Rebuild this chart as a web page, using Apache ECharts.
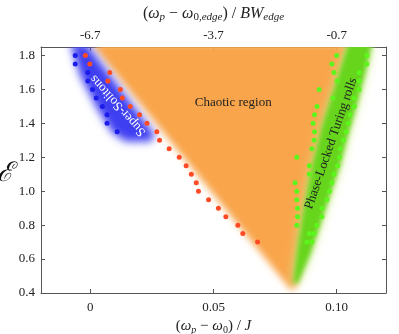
<!DOCTYPE html>
<html>
<head>
<meta charset="utf-8">
<script src="https://cdn.jsdelivr.net/npm/echarts@6/dist/echarts.min.js"></script>
<style>
html, body { margin: 0; padding: 0; background: #fff; }
#main { width: 399px; height: 334px; }
</style>
</head>
<body>
<div id="main"></div>
<script>
// axis ticks
var xTicks = [0, 0.05, 0.10];
var xTickLabels = ['0', '0.05', '0.10'];
var topTickLabels = ['-6.7', '-3.7', '-0.7'];
var yTicks = [0.4, 0.6, 0.8, 1.0, 1.2, 1.4, 1.6, 1.8];

// region outlines, [x, y]
var chaoticRegion = [[0.0004, 1.87], [0.1060, 1.87], [0.0900, 1.0], [0.0835, 0.434], [0.0819, 0.418], [0.0805, 0.434]];
var solitonRegion = [[-0.0081, 1.87], [-0.0016, 1.87], [0.0264, 1.329], [0.0243, 1.293], [0.0142, 1.293],
  [0.0089, 1.346], [0.0028, 1.488], [-0.0041, 1.682]];
var turingRegion = [[0.1046, 1.87], [0.0993, 1.623], [0.0941, 1.388], [0.0900, 1.152], [0.0864, 0.887],
  [0.0839, 0.651], [0.0823, 0.457], [0.0843, 0.457], [0.0892, 0.622], [0.0933, 0.799], [0.0973, 0.975],
  [0.1014, 1.152], [0.1046, 1.329], [0.1087, 1.535], [0.1119, 1.712], [0.1144, 1.87]];

// red dots (edge of chaotic region)
var redY = [1.80, 1.75, 1.70, 1.65, 1.60, 1.55, 1.50, 1.45, 1.40, 1.35, 1.30, 1.25, 1.20, 1.15, 1.10, 1.05, 1.00,
  0.95, 0.90, 0.85, 0.80, 0.75, 0.70];
var redX = [-0.0020, -0.0002, 0.0079, 0.0071, 0.0122, 0.0130, 0.0162, 0.0200, 0.0230, 0.0270, 0.0281, 0.0320,
  0.0361, 0.0389, 0.0410, 0.0430, 0.0439, 0.0480, 0.0520, 0.0550, 0.0599, 0.0619, 0.0679];

// blue dots (super-solitons)
var blueY = [1.80, 1.75, 1.70, 1.65, 1.60, 1.55, 1.50, 1.45, 1.40, 1.35];
var blueX = [-0.0061, -0.0061, -0.0010, -0.0010, 0.0009, 0.0024, 0.0049, 0.0068, 0.0068, 0.0109];

// green dots (both edges of the Turing rolls band)
var greenY = [1.80, 1.75, 1.70, 1.65, 1.60, 1.55, 1.50, 1.45, 1.40, 1.35, 1.30, 1.25, 1.20, 1.15, 1.10, 1.05,
  1.00, 0.95, 0.90, 0.85, 0.80, 0.75, 0.70];
var greenLeft = [0.1000, 0.0980, 0.0989, 0.1002, 0.0929, 0.0985, 0.0920, 0.0910, 0.0904, 0.0910, 0.0908, 0.0899,
  0.0838, 0.0889, 0.0889, 0.0831, 0.0838, 0.0838, 0.0841, 0.0841, 0.0838, 0.0889, 0.0879];
var greenRight = [0.1122, 0.1122, 0.1091, 0.1091, 0.1091, 0.1071, 0.1071, 0.1054, 0.1047, 0.1038, 0.1027, 0.1014,
  0.1011, 0.1003, 0.0989, 0.0980, 0.0970, 0.0960, 0.0940, 0.0940, 0.0919, 0.0908, 0.0899];

var serif = '"Liberation Serif", "Times New Roman", serif';
var SHIFT = 3000;

function zip(xs, ys) {
  return xs.map(function (x, i) { return [x, ys[i]]; });
}

// soft-edged region: the polygon itself is pushed off-canvas, only its blurred shadow lands on the plot
function regionSeries(points, color, blur) {
  return {
    type: 'custom',
    clip: true,
    silent: true,
    data: [0],
    renderItem: function (params, api) {
      var pts = points.map(function (p) {
        var c = api.coord(p);
        return [c[0] + SHIFT, c[1]];
      });
      return {
        type: 'polygon',
        shape: { points: pts },
        style: { fill: color, shadowBlur: blur, shadowColor: color, shadowOffsetX: -SHIFT, shadowOffsetY: 0 }
      };
    }
  };
}

function textSeries(x, y, text, rot, color) {
  return {
    type: 'custom',
    silent: true,
    data: [0],
    renderItem: function (params, api) {
      var c = api.coord([x, y]);
      return {
        type: 'text',
        x: c[0],
        y: c[1],
        rotation: rot,
        style: { text: text, fill: color, font: '13px ' + serif, align: 'center', verticalAlign: 'middle' }
      };
    }
  };
}

function dotSeries(data, color) {
  return {
    type: 'scatter',
    data: data,
    symbolSize: 5,
    silent: true,
    itemStyle: { color: color, opacity: 1 }
  };
}

var tickLabelStyle = { color: '#222', fontFamily: serif, fontSize: 13 };
function mathRich(size, sub) {
  return {
    i: { fontFamily: serif, fontStyle: 'italic', fontSize: size, color: '#222', lineHeight: 18 },
    n: { fontFamily: serif, fontSize: size, color: '#222', lineHeight: 18 },
    s: { fontFamily: serif, fontStyle: 'italic', fontSize: sub, color: '#222', verticalAlign: 'bottom', lineHeight: 12 },
    s0: { fontFamily: serif, fontSize: sub, color: '#222', verticalAlign: 'bottom', lineHeight: 12 }
  };
}

var myChart = echarts.init(document.getElementById('main'));
myChart.setOption({
  animation: false,
  backgroundColor: '#fff',
  grid: { left: 41, right: 13, top: 47, bottom: 41, outerBoundsMode: 'none' },
  xAxis: [
    {
      type: 'value',
      position: 'bottom',
      min: -0.02,
      max: 0.12,
      axisLine: { show: true, onZero: false, lineStyle: { color: '#555', width: 1 } },
      axisTick: { show: true, inside: true, length: 4, customValues: xTicks, lineStyle: { color: '#555' } },
      axisLabel: Object.assign({
        margin: 8,
        customValues: xTicks,
        formatter: function (v) {
          var i = 0;
          xTicks.forEach(function (t, k) { if (Math.abs(t - v) < 1e-9) i = k; });
          return xTickLabels[i];
        }
      }, tickLabelStyle),
      splitLine: { show: false },
      name: '{n|(}{i|ω}{s|p}{n| − }{i|ω}{s0|0}{n|) / }{i|J}',
      nameLocation: 'middle',
      nameGap: 24,
      nameTextStyle: { rich: mathRich(15, 10) }
    },
    {
      type: 'value',
      position: 'top',
      min: -0.02,
      max: 0.12,
      axisLine: { show: true, onZero: false, lineStyle: { color: '#555', width: 1 } },
      axisTick: { show: true, inside: true, length: 4, customValues: xTicks, lineStyle: { color: '#555' } },
      axisLabel: Object.assign({
        margin: 5,
        customValues: xTicks,
        formatter: function (v) {
          var i = 0;
          xTicks.forEach(function (t, k) { if (Math.abs(t - v) < 1e-9) i = k; });
          return topTickLabels[i];
        }
      }, tickLabelStyle),
      splitLine: { show: false },
      name: '{n|(}{i|ω}{s|p}{n| − }{i|ω}{s0|0,}{s|edge}{n|) / }{i|BW}{s|edge}',
      nameLocation: 'middle',
      nameGap: 24,
      nameTextStyle: { rich: mathRich(16, 11) }
    }
  ],
  yAxis: [
    {
      type: 'value',
      position: 'left',
      min: 0.4,
      max: 1.85,
      axisLine: { show: true, onZero: false, lineStyle: { color: '#555', width: 1 } },
      axisTick: { show: true, inside: true, length: 4, customValues: yTicks, lineStyle: { color: '#555' } },
      axisLabel: Object.assign({
        margin: 6,
        customValues: yTicks,
        formatter: function (v) { return v.toFixed(1); }
      }, tickLabelStyle),
      splitLine: { show: false },
      name: 'ℰ',
      nameLocation: 'middle',
      nameGap: 28,
      nameRotate: 0,
      nameTextStyle: {
        fontFamily: '"DejaVu Serif", serif', fontStyle: 'italic', fontSize: 27, color: '#111',
        verticalAlign: 'top', lineHeight: 8
      }
    },
    {
      type: 'value',
      position: 'right',
      min: 0.4,
      max: 1.85,
      axisLine: { show: true, onZero: false, lineStyle: { color: '#555', width: 1 } },
      axisTick: { show: true, inside: true, length: 4, customValues: yTicks, lineStyle: { color: '#555' } },
      axisLabel: { show: false },
      splitLine: { show: false }
    }
  ],
  series: [
    regionSeries(chaoticRegion, '#F9A54B', 7),
    regionSeries(solitonRegion, '#3F3FF2', 9),
    regionSeries(turingRegion, '#DCEE9A', 12),
    regionSeries(turingRegion, '#66D51C', 5),
    dotSeries(zip(redX, redY), '#FF4A26'),
    dotSeries(zip(blueX, blueY), '#1C1CEB'),
    dotSeries(zip(greenLeft, greenY), '#5CF51C'),
    dotSeries(zip(greenRight, greenY), '#5CF51C'),
    textSeries(0.058, 1.523, 'Chaotic region', 0, '#222'),
    textSeries(0.0112, 1.505, 'Super-Solitons', 2.30, '#fff'),
    textSeries(0.0977, 1.282, 'Phase-Locked Turing rolls', 1.24, '#222')
  ]
});
</script>
</body>
</html>
